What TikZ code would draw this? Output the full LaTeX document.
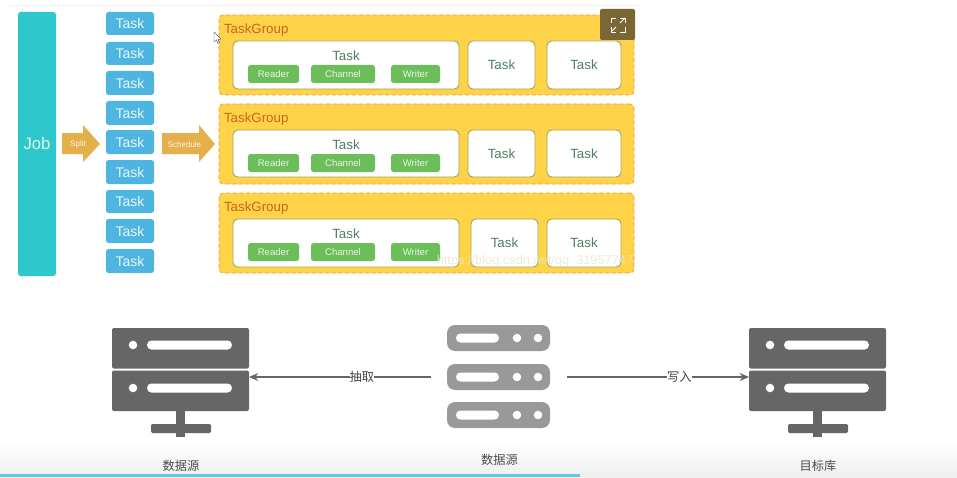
\documentclass[tikz,border=0pt]{standalone}
\usepackage{fontspec}
\setmainfont{Liberation Sans}
\newfontfamily\cjk{Noto Sans CJK SC}
\usetikzlibrary{arrows.meta,calc}
\definecolor{jobc}{HTML}{2EC7CB}
\definecolor{taskc}{HTML}{4DB5DF}
\definecolor{arrowc}{HTML}{E3B04B}
\definecolor{groupc}{HTML}{FFD347}
\definecolor{dashc}{HTML}{EE9A4D}
\definecolor{greenc}{HTML}{6CBE5A}
\definecolor{taskt}{HTML}{4F7F62}
\definecolor{groupt}{HTML}{C9651F}
\definecolor{srvc}{HTML}{666666}
\definecolor{srvl}{HTML}{999999}
\definecolor{btnc}{HTML}{7B6736}
\definecolor{linec}{HTML}{5BC8F0}
\definecolor{wmc}{HTML}{EDE6CC}
\newcommand{\low}[1]{\raisebox{-.7pt}{#1}}
\tikzset{
  base/.style={inner sep=0pt,outer sep=0pt,align=center},
  jobbox/.style={base,fill=jobc,rounded corners=2pt,text=white!85!jobc,font=\fontsize{12.5}{14}\selectfont},
  taskbox/.style={base,fill=taskc,rounded corners=2pt,text=white!88!taskc,font=\fontsize{10.5}{12}\selectfont},
  groupbox/.style={base,fill=groupc,draw=dashc,densely dashed,line width=.6pt,rounded corners=3pt},
  whitebox/.style={base,fill=white,draw=taskt!55!groupc,line width=.7pt,rounded corners=3.5pt,text=taskt,font=\fontsize{10}{12}\selectfont},
  pluginbox/.style={base,fill=greenc,rounded corners=2pt,text=white!85!greenc,font=\fontsize{7.2}{8}\selectfont},
  blockarrow/.style={fill=arrowc},
  arrowtext/.style={base,text=white!90!arrowc,font=\fontsize{6}{7}\selectfont},
  grouptext/.style={base,text=groupt,anchor=west,font=\fontsize{10}{12}\selectfont},
  tasktitle/.style={base,text=taskt,font=\fontsize{10}{12}\selectfont},
  srvlabel/.style={base,text=black!70,font=\cjk\fontsize{9.2}{10}\selectfont},
  flowarrow/.style={draw=srvc,line width=.9pt,-{Stealth[length=7pt,width=6pt]}},
  flowlabel/.style={base,fill=white,text=black!75,font=\cjk\fontsize{9.2}{10}\selectfont},
  pillbody/.style={base,fill=srvl,rounded corners=6pt},
}
\newcommand{\bx}[7]{%
  \pgfmathsetmacro{\bxw}{(#4-#2)*0.75}\pgfmathsetmacro{\bxh}{(#5-#3)*0.75}%
  \node[#6,minimum width=\bxw pt,minimum height=\bxh pt] (#1) at ({(#2+#4)/2},{(#3+#5)/2}) {#7};}
\newcommand{\bigserver}[2]{% name, left x
  \begin{scope}[shift={(#2,0)}]
    \fill[srvc] (64,411) rectangle (73,437);
    \fill[srvc,rounded corners=1pt] (39,424) rectangle (99,433);
    \fill[srvc,rounded corners=1.5pt] (0,328) rectangle (137,368.5);
    \fill[srvc,rounded corners=1.5pt] (0,370.5) rectangle (137,411);
    \foreach \yy in {345,388}{
      \fill[white] (21,\yy) circle[radius=3.2pt];
      \fill[white,rounded corners=3.3pt] (35,\yy-4.5) rectangle (120,\yy+4.5);
    }
    \node[base,minimum width=102.75pt,minimum height=62.25pt] (#1) at (68.5,369.5) {};
  \end{scope}
}
\begin{document}
\begin{tikzpicture}[x=0.75pt,y=-0.75pt]
\useasboundingbox (0,0) rectangle (957,478);
\fill[white] (0,0) rectangle (957,478);
% bottom shade
\shade[top color=white,bottom color=black!6] (0,440) rectangle (957,474);
\fill[black!6] (0,474) rectangle (957,478);
\fill[linec] (0,474) rectangle (580,477);
% top rule
\fill[black!5] (10,5) rectangle (640,6);

\bx{job}{18}{12}{56}{276}{jobbox}{\low{Job}}
\foreach \n/\a/\b in {1/12/35,2/42/65,3/71/95,4/101/125,5/130/154,6/160/184,7/190/213,8/219/243,9/249/273}{
  \bx{t\n}{106}{\a}{154}{\b}{taskbox}{\low{Task}}
}
% block arrows
\fill[blockarrow] (62,133)--(83,133)--(83,125)--(100,144)--(83,162)--(83,154)--(62,154)--cycle;
\node[arrowtext] (split) at (78,144.5) {Split};
\fill[blockarrow] (162,133)--(199,133)--(199,125)--(215,144)--(199,162)--(199,154)--(162,154)--cycle;
\node[arrowtext] (schedule) at (184.5,144.5) {Schedule};

% task groups
\foreach \g/\ya/\yb/\yc/\yd/\yt/\yp/\yq/\tx/\tw/\ty in {
  1/15/95/41/89/30/65/83/468/535/55.5,
  2/104/184/130/177/119/154/172/468/535/144.5,
  3/193/273/219/267/208/243/261/471/538/233.5}{
  \bx{g\g}{219}{\ya}{634}{\yb}{groupbox}{}
  \node[grouptext] (gt\g) at (224,\yt) {TaskGroup};
  \bx{bt\g}{233}{\yc}{459}{\yd}{whitebox}{}
  \node[tasktitle] (btl\g) at (346,\ty) {Task};
  \bx{r\g}{248}{\yp}{299}{\yq}{pluginbox}{Reader}
  \bx{c\g}{311}{\yp}{375}{\yq}{pluginbox}{Channel}
  \bx{w\g}{391}{\yp}{440}{\yq}{pluginbox}{Writer}
  \bx{sa\g}{\tx}{\yc}{\tw}{\yd}{whitebox}{\low{Task}}
  \bx{sb\g}{547}{\yc}{621}{\yd}{whitebox}{\low{Task}}
}
% watermark
\node[base,text=wmc,opacity=.8,font=\fontsize{9.6}{11}\selectfont] (wm) at (535,261) {https://blog.csdn.net/qq\_31957747};
% expand button
\fill[btnc,rounded corners=1.5pt] (600,9) rectangle (635,40);
\begin{scope}[white,line width=.6pt]
  \draw (611,23)--(611,18)--(616,18);
  \draw (620,18)--(625,18)--(625,23);
  \draw (611,27)--(611,32)--(616,32);
  \draw (620,32)--(625,32)--(625,27);
  \draw (620,23)--(625,18);
  \draw (611,32)--(616,27);
\end{scope}
% cursor
\draw[black!60,fill=white,line width=.35pt] (214,32)--(214,42)--(216.5,40)--(218,43.5)--(219.5,42.5)--(218,39.5)--(221,39)--cycle;

% servers
\bigserver{src}{112}
\bigserver{dst}{749}
\foreach \n/\ya/\yb in {a/325/351,b/364/390,c/402/428}{
  \bx{pill\n}{447}{\ya}{550}{\yb}{pillbody}{}
  \fill[white,rounded corners=3.3pt] (456,\ya+8.5) rectangle (499,\ya+17.5);
  \fill[white] (517,\ya+13) circle[radius=3.2pt];
  \fill[white] (538,\ya+13) circle[radius=3.2pt];
}
\draw[flowarrow,shorten <=12pt] (pillb.west) -- (pillb.west -| src.east) node[flowlabel,pos=.43] (lx) {抽取};
\draw[flowarrow,shorten <=12.75pt] (pillb.east) -- (pillb.east -| dst.west) node[flowlabel,pos=.65] (ly) {写入};
\node[srvlabel] (s1) at (181,465.5) {数据源};
\node[srvlabel] (s2) at (499.5,459.5) {数据源};
\node[srvlabel] (s3) at (818,465.5) {目标库};
\end{tikzpicture}
\end{document}
